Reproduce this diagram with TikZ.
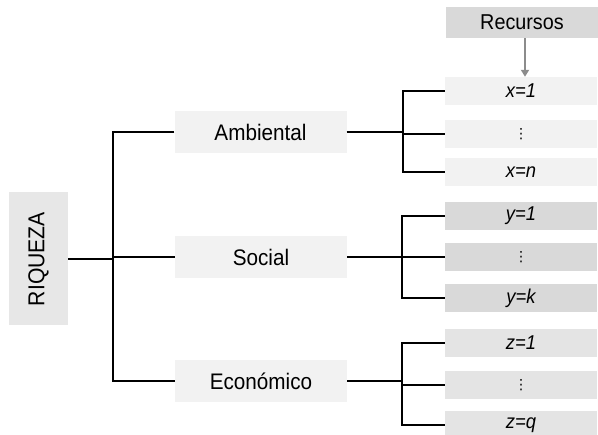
\documentclass[tikz,border=0pt]{standalone}
\usepackage{fontspec}
\setmainfont{Liberation Sans}[FakeStretch=0.92]
\newfontfamily\symfont{DejaVu Sans}
\usepackage{tikz}
\usetikzlibrary{positioning, arrows.meta, calc}
\definecolor{boxlight}{HTML}{F2F2F2}
\definecolor{boxroot}{HTML}{E7E7E7}
\definecolor{boxdark}{HTML}{D9D9D9}
\definecolor{boxmid}{HTML}{E4E4E4}
\definecolor{arrowgray}{HTML}{8C8C8C}
\newcommand{\vdotsmall}{{\symfont\fontsize{14}{14}\selectfont ⋮}}
\tikzset{
  dim box/.style={
    fill=boxlight,
    minimum width=172pt,
    minimum height=42pt,
    align=center,
    font=\fontsize{22.5}{24}\selectfont
  },
  res box/.style={
    minimum width=152pt,
    minimum height=28pt,
    inner sep=0pt,
    align=center,
    font=\fontsize{20}{20}\selectfont\itshape
  },
  tree line/.style={line width=1.3pt, black}
}

\begin{document}
\begin{tikzpicture}[x=1pt, y=-1pt]
  \useasboundingbox (0,0) rectangle (598,435);

  % Root
  \node[fill=boxroot, minimum width=133pt, minimum height=59pt, rotate=90,
        font=\fontsize{23}{26}\selectfont] (riqueza) at (38.5,259) {RIQUEZA};

  % Dimensions
  \node[dim box] (amb) at (260.5,132) {Ambiental};
  \node[dim box] (soc) at (261,257) {Social};
  \node[dim box] (eco) at (261,381) {Económico};

  % Resources
  \node[res box, fill=boxdark, minimum height=31pt, font=\fontsize{21.5}{24}\selectfont] (rec) at (522,22.5) {Recursos};
  \node[res box, fill=boxlight] (x1) at (521,91) {x=1};
  \node[res box, fill=boxlight] (xd) at (521,134) {\vdotsmall};
  \node[res box, fill=boxlight] (xn) at (521,172) {x=n};
  \node[res box, fill=boxdark] (y1) at (521,216) {y=1};
  \node[res box, fill=boxdark] (yd) at (521,257) {\vdotsmall};
  \node[res box, fill=boxdark] (yk) at (521,298) {y=k};
  \node[res box, fill=boxmid] (z1) at (521,343) {z=1};
  \node[res box, fill=boxmid] (zd) at (521,385) {\vdotsmall};
  \node[res box, fill=boxmid] (zq) at (521,425) {z=q};

  % Junctions
  \coordinate (jr) at (113,257);
  \coordinate (ja) at (403,132);
  \coordinate (js) at (402,257);
  \coordinate (je) at (402,381);

  % Tree
  \draw[tree line] (riqueza.south) -- (riqueza.south -| jr);
  \draw[tree line] (amb.west) -| (jr) |- (eco.west);
  \draw[tree line] (jr |- soc.west) -- (soc.west);

  \draw[tree line] (amb.east) -- (ja);
  \draw[tree line] (x1.west) -| (ja) |- (xn.west);
  \draw[tree line] (ja |- xd.west) -- (xd.west);

  \draw[tree line] (soc.east) -- (js);
  \draw[tree line] (y1.west) -| (js) |- (yk.west);
  \draw[tree line] (js |- yd.west) -- (yd.west);

  \draw[tree line] (eco.east) -- (je);
  \draw[tree line] (z1.west) -| (je) |- (zq.west);
  \draw[tree line] (je |- zd.west) -- (zd.west);

  % Arrow
  \draw[-{Triangle[length=7pt, width=8pt]}, line width=2.5pt, arrowgray]
    ([xshift=3pt]rec.south) -- ([xshift=3pt]rec.south |- x1.north);
\end{tikzpicture}
\end{document}
